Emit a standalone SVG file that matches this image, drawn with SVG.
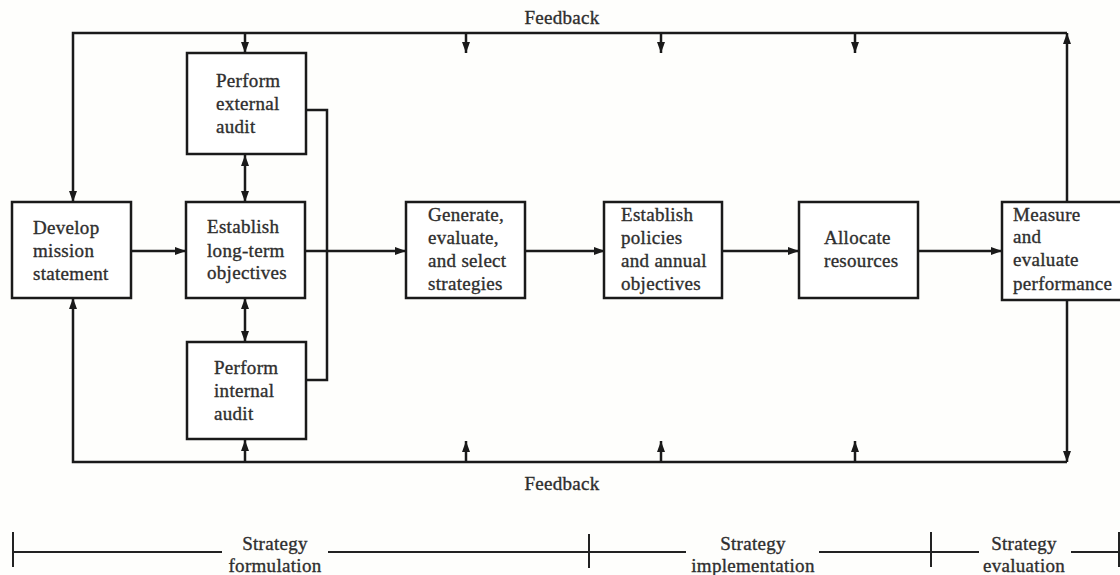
<svg xmlns="http://www.w3.org/2000/svg" width="1120" height="575" viewBox="0 0 1120 575">
<defs>
<style>
.box{fill:#fff;stroke:#1a1a1a;stroke-width:2.5}
.ln{fill:none;stroke:#1a1a1a;stroke-width:2.5}
.tl{fill:none;stroke:#222;stroke-width:2}
text{font-family:"Liberation Serif","Times New Roman",serif;font-size:19px;fill:#2e2e2e;stroke:#2e2e2e;stroke-width:0.35px;letter-spacing:0.3px}
.c{text-anchor:middle}
</style>
<marker id="ah" markerUnits="userSpaceOnUse" viewBox="0 0 11 8" markerWidth="11" markerHeight="8" refX="11" refY="4" orient="auto-start-reverse">
<path d="M0,0 L11,4 L0,8 z" fill="#1a1a1a"/>
</marker>
</defs>
<rect width="1120" height="575" fill="#fefefc"/>
<g id="connectors">
<path class="ln" d="M1067,33 H73 V202" marker-end="url(#ah)"/>
<path class="ln" d="M1067,202 V33" marker-end="url(#ah)"/>
<path class="ln" d="M1067,462 H73 V298" marker-end="url(#ah)"/>
<path class="ln" d="M1067,300 V462" marker-end="url(#ah)"/>
<path class="ln" d="M245,33 V53" marker-end="url(#ah)"/>
<path class="ln" d="M466,33 V53" marker-end="url(#ah)"/>
<path class="ln" d="M661,33 V53" marker-end="url(#ah)"/>
<path class="ln" d="M855,33 V53" marker-end="url(#ah)"/>
<path class="ln" d="M245,462 V440" marker-end="url(#ah)"/>
<path class="ln" d="M466,462 V441" marker-end="url(#ah)"/>
<path class="ln" d="M661,462 V441" marker-end="url(#ah)"/>
<path class="ln" d="M855,462 V441" marker-end="url(#ah)"/>
<path class="ln" d="M245,155 V202" marker-start="url(#ah)" marker-end="url(#ah)"/>
<path class="ln" d="M245,298 V342" marker-start="url(#ah)" marker-end="url(#ah)"/>
<path class="ln" d="M306,110 H327 V380 H306"/>
<path class="ln" d="M131,251 H186" marker-end="url(#ah)"/>
<path class="ln" d="M305,251 H406" marker-end="url(#ah)"/>
<path class="ln" d="M525,251 H605" marker-end="url(#ah)"/>
<path class="ln" d="M722,251 H799" marker-end="url(#ah)"/>
<path class="ln" d="M918,251 H1002" marker-end="url(#ah)"/>
</g>
<text class="c" x="562" y="24">Feedback</text>
<text class="c" x="562" y="490">Feedback</text>
<g id="develop">
<rect class="box" x="12" y="202" width="119" height="96"/>
<text x="33" y="234">Develop</text>
<text x="33" y="257">mission</text>
<text x="33" y="280">statement</text>
</g>
<g id="longterm">
<rect class="box" x="186" y="202" width="119" height="96"/>
<text x="207" y="233">Establish</text>
<text x="207" y="257">long-term</text>
<text x="207" y="279">objectives</text>
</g>
<g id="external">
<rect class="box" x="187" y="53" width="119" height="101"/>
<text x="216" y="87">Perform</text>
<text x="216" y="110">external</text>
<text x="216" y="133">audit</text>
</g>
<g id="internal">
<rect class="box" x="187" y="342" width="119" height="97"/>
<text x="214" y="374">Perform</text>
<text x="214" y="397">internal</text>
<text x="214" y="420">audit</text>
</g>
<g id="generate">
<rect class="box" x="406" y="202" width="119" height="96"/>
<text x="428" y="221">Generate,</text>
<text x="428" y="244">evaluate,</text>
<text x="428" y="267">and select</text>
<text x="428" y="290">strategies</text>
</g>
<g id="policies">
<rect class="box" x="604" y="202" width="118" height="96"/>
<text x="621" y="221">Establish</text>
<text x="621" y="244">policies</text>
<text x="621" y="267">and annual</text>
<text x="621" y="290">objectives</text>
</g>
<g id="allocate">
<rect class="box" x="799" y="202" width="119" height="96"/>
<text x="824" y="244">Allocate</text>
<text x="824" y="267">resources</text>
</g>
<g id="measure">
<rect class="box" x="1002" y="202" width="120" height="98"/>
<text x="1013" y="221">Measure</text>
<text x="1013" y="243">and</text>
<text x="1013" y="266">evaluate</text>
<text x="1013" y="290">performance</text>
</g>
<g id="timeline">
<path class="tl" d="M13,532 V567 M13,552 H222 M328,552 H686 M589,534 V568 M819,552 H979 M931,532 V567 M1071,552 H1120 M1119,532 V567"/>
<text class="c" x="275" y="550">Strategy</text>
<text class="c" x="275" y="572">formulation</text>
<text class="c" x="753" y="550">Strategy</text>
<text class="c" x="753" y="572">implementation</text>
<text class="c" x="1024" y="550">Strategy</text>
<text class="c" x="1024" y="572">evaluation</text>
</g>
</svg>
